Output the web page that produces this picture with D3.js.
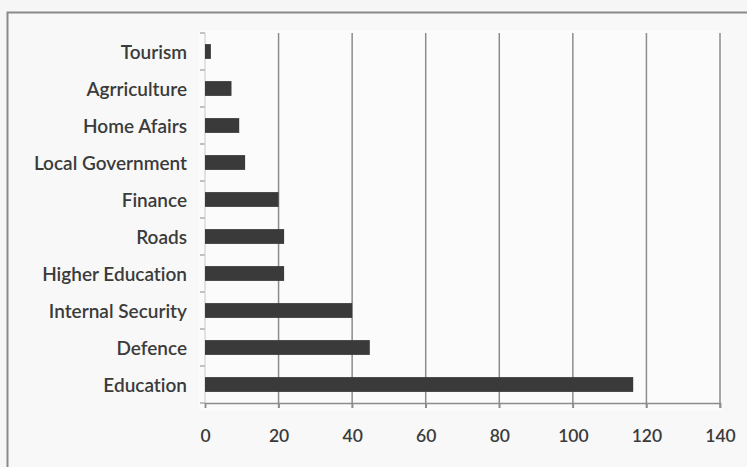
<!DOCTYPE html>
<html>
<head>
<meta charset="utf-8">
<script src="https://cdn.jsdelivr.net/npm/d3@7"></script>
<style>
  html, body { margin: 0; padding: 0; background: #f6f6f6; }
  svg { display: block; }
  text { font-variant-ligatures: none; }
</style>
</head>
<body>
<svg id="chart" width="747" height="467"></svg>
<script>
// Ministries, listed top to bottom
const categories = [
  "Tourism", "Agrriculture", "Home Afairs", "Local Government", "Finance",
  "Roads", "Higher Education", "Internal Security", "Defence", "Education"
];
// Allocation per ministry
const values = [1.6, 7.2, 9.3, 10.9, 20, 21.5, 21.5, 40, 44.8, 116.4];
// Value axis ticks
const xTicks = [0, 20, 40, 60, 80, 100, 120, 140];

const svg = d3.select("#chart");
const W = 747, H = 467;
const plot = { left: 205, right: 720, top: 33, bottom: 403 };
const font = "Lato, 'Open Sans', sans-serif";
const ink = "#3b3b3b";

// Outer chart frame (continues off the right and bottom edges)
svg.append("rect")
  .attr("x", 7.5).attr("y", 12.5)
  .attr("width", W + 20).attr("height", H + 20)
  .attr("fill", "#f8f8f8")
  .attr("stroke", "#8a8a8a").attr("stroke-width", 2);

// Plot area
svg.append("rect")
  .attr("x", plot.left - 6).attr("y", plot.top - 2)
  .attr("width", plot.right - plot.left + 8).attr("height", plot.bottom - plot.top + 10)
  .attr("fill", "#fbfbfb");

const x = d3.scaleLinear().domain([0, 140]).range([plot.left, plot.right]);
const y = d3.scaleBand().domain(categories).range([plot.top, plot.bottom])
  .paddingInner(0.6).paddingOuter(0.3);

// Vertical gridlines
svg.append("g")
  .selectAll("line")
  .data(xTicks.slice(1))
  .join("line")
  .attr("x1", d => x(d)).attr("x2", d => x(d))
  .attr("y1", plot.top).attr("y2", plot.bottom + 5)
  .attr("stroke", "#8c8c8c").attr("stroke-width", 1.5);

// Value axis
const xAxis = svg.append("g")
  .attr("transform", `translate(0,${plot.bottom})`)
  .call(d3.axisBottom(x).tickValues(xTicks).tickSize(5).tickPadding(22));
xAxis.select(".domain").attr("stroke", "#8c8c8c").attr("stroke-width", 1.5);
xAxis.selectAll(".tick line").attr("stroke", "#8c8c8c").attr("stroke-width", 1.5);
xAxis.selectAll(".tick text")
  .attr("fill", ink).style("font-family", font)
  .style("font-size", "17.5px").style("font-weight", "600");

// Category axis: ticks between categories
const boundaries = d3.range(categories.length + 1)
  .map(i => plot.top + i * (plot.bottom - plot.top) / categories.length);
svg.append("g")
  .selectAll("line")
  .data(boundaries)
  .join("line")
  .attr("x1", plot.left - 5).attr("x2", plot.left)
  .attr("y1", d => d).attr("y2", d => d)
  .attr("stroke", "#9a9a9a").attr("stroke-width", 1.2);
svg.append("line")
  .attr("x1", plot.left).attr("x2", plot.left)
  .attr("y1", plot.top).attr("y2", plot.bottom)
  .attr("stroke", "#c8c8c8").attr("stroke-width", 1);

// Category labels
svg.append("g")
  .selectAll("text")
  .data(categories)
  .join("text")
  .attr("x", 187)
  .attr("y", d => y(d) + y.bandwidth() / 2)
  .attr("text-anchor", "end")
  .attr("dominant-baseline", "central")
  .attr("fill", ink)
  .style("font-family", font)
  .style("font-size", "19px")
  .style("font-weight", "600")
  .text(d => d);

// Bars
svg.append("g")
  .selectAll("rect")
  .data(categories.map((c, i) => ({ c, v: values[i] })))
  .join("rect")
  .attr("x", x(0))
  .attr("y", d => y(d.c))
  .attr("width", d => x(d.v) - x(0))
  .attr("height", y.bandwidth())
  .attr("fill", "#3a3a3a");
</script>
</body>
</html>
